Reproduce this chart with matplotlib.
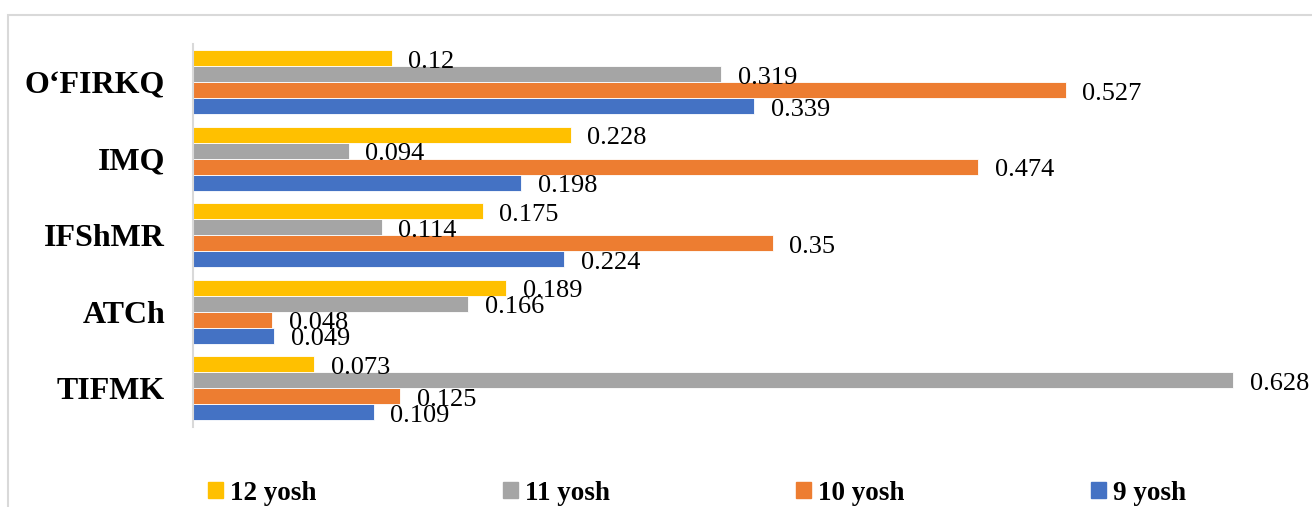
import matplotlib
matplotlib.use("Agg")
import matplotlib.pyplot as plt
from matplotlib.patches import Rectangle, Patch

# ma'lumotlar (pastdan yuqoriga)
categories = ["TIFMK", "ATCh", "IFShMR", "IMQ", "O\u2018FIRKQ"]
yosh9 = [0.109, 0.049, 0.224, 0.198, 0.339]
yosh10 = [0.125, 0.048, 0.35, 0.474, 0.527]
yosh11 = [0.628, 0.166, 0.114, 0.094, 0.319]
yosh12 = [0.073, 0.189, 0.175, 0.228, 0.12]
series_names = ["9 yosh", "10 yosh", "11 yosh", "12 yosh"]

colors = ["#4472C4", "#ED7D31", "#A5A5A5", "#FFC000"]

plt.rcParams['font.family'] = ['Liberation Serif', 'DejaVu Serif']

fig = plt.figure(figsize=(13.12, 5.07), dpi=100)
ax = fig.add_axes([193 / 1312, 1 - 426.5 / 507, (1290 - 193) / 1312, (426.5 - 44) / 507])

h = 0.209
ys = list(range(len(categories)))
for k, vals in enumerate([yosh9, yosh10, yosh11, yosh12]):
    pos = [y + (k - 1.5) * h for y in ys]
    ax.barh(pos, vals, height=h, color=colors[k], edgecolor='white', linewidth=0.6)
    for p, v in zip(pos, vals):
        ax.annotate(f"{v:g}", xy=(v, p), xytext=(12, -2.5), textcoords='offset points',
                    ha='left', va='center', fontsize=19)

ax.set_xlim(0, (1290 - 193) / 1656)
ax.set_ylim(-0.5, len(categories) - 0.5)
ax.set_yticks(ys)
ax.set_yticklabels(categories, fontsize=23, fontweight='bold')
ax.tick_params(axis='y', length=0, pad=20)
ax.set_xticks([])
for s in ['top', 'right', 'bottom']:
    ax.spines[s].set_visible(False)
ax.spines['left'].set_color('#D9D9D9')
ax.spines['left'].set_linewidth(1.5)

handles = [Patch(color=colors[k]) for k in [3, 2, 1, 0]]
labels = [series_names[k] for k in [3, 2, 1, 0]]
fig.legend(handles, labels, loc='center', bbox_to_anchor=(697 / 1312, 1 - 493 / 507), ncol=4,
           frameon=False, prop={'size': 19.5, 'weight': 'bold'}, handlelength=0.55, handleheight=0.55,
           handletextpad=0.25, columnspacing=6.9)

# ramka
fig.patches.append(Rectangle((8 / 1312, -0.1), 1.2, 1.1 - 15 / 507, transform=fig.transFigure,
                             fill=False, edgecolor='#D9D9D9', linewidth=1.5))

fig.savefig("out.png", dpi=100)
